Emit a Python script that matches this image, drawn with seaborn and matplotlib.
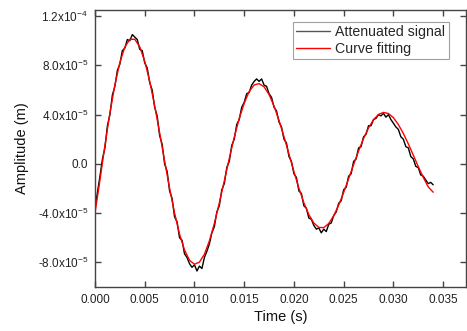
import numpy as np
import pandas as pd
import matplotlib
matplotlib.use("Agg")
import matplotlib.pyplot as plt
import seaborn as sns

# ---- data (amplitudes in units of 1e-5 m) ----
fit_time = [0.0005 * k for k in range(69)]
fit_amp_e5 = [
    -4.00, -1.31, 1.51, 4.13, 6.41, 8.23, 9.49, 10.12, 10.12, 9.51,
    8.34, 6.71, 4.72, 2.52, 0.24, -1.97, -3.99, -5.70, -6.99, -7.83,
    -8.15, -7.98, -7.34, -6.25, -4.84, -3.16, -1.38, 0.44, 2.16, 3.69,
    4.92, 5.88, 6.41, 6.52, 6.26, 5.63, 4.70, 3.53, 2.21, 0.80,
    -0.63, -1.98, -3.16, -4.12, -4.80, -5.16, -5.18, -4.84, -4.21, -3.35,
    -2.32, -1.20, -0.06, 1.05, 2.06, 2.92, 3.59, 4.02, 4.18, 4.09,
    3.75, 3.19, 2.47, 1.62, 0.71, -0.22, -1.09, -1.87, -2.30,
]

sig_time = [0.00025 * j for j in range(137)]
sig_amp_e5 = [
    -3.6, -2.3, -1.0, 0.4, 1.3, 3.1, 4.0, 5.6, 6.3, 7.6,
    8.1, 9.2, 9.4, 10.1, 10.0, 10.5, 10.3, 10.1, 9.3, 9.2,
    8.2, 7.8, 6.6, 6.0, 4.6, 3.9, 2.3, 1.6, 0.0, -0.6,
    -2.2, -2.8, -4.3, -4.7, -6.0, -6.2, -7.3, -7.6, -8.1, -8.4,
    -8.2, -8.7, -8.3, -8.5, -7.6, -7.1, -6.5, -5.6, -5.1, -3.9,
    -3.4, -2.1, -1.6, -0.3, 0.2, 1.5, 2.0, 3.2, 3.6, 4.6,
    5.0, 5.7, 5.8, 6.4, 6.7, 6.9, 6.7, 6.9, 6.4, 6.3,
    5.7, 5.4, 4.6, 4.3, 3.4, 3.0, 2.0, 1.7, 0.6, 0.2,
    -0.8, -1.1, -2.2, -2.4, -3.4, -3.6, -4.4, -4.5, -5.0, -5.3,
    -5.2, -5.6, -5.3, -5.5, -4.9, -4.8, -4.2, -3.9, -3.2, -3.0,
    -2.1, -1.9, -1.0, -0.8, 0.2, 0.4, 1.3, 1.4, 2.2, 2.4,
    3.1, 3.1, 3.6, 3.7, 4.0, 3.9, 4.1, 3.8, 4.0, 3.6,
    3.3, 3.0, 2.8, 2.2, 2.0, 1.4, 1.3, 0.6, 0.4, -0.2,
    -0.3, -0.9, -1.0, -1.3, -1.6, -1.5, -1.7,
]

x_ticks = [0.000, 0.005, 0.010, 0.015, 0.020, 0.025, 0.030, 0.035]
x_tick_labels = ["0.000", "0.005", "0.010", "0.015", "0.020", "0.025", "0.030", "0.035"]
y_ticks = [-8e-5, -4e-5, 0.0, 4e-5, 8e-5, 1.2e-4]
y_tick_labels = [r"-8.0x10$^{-5}$", r"-4.0x10$^{-5}$", "0.0",
                 r"4.0x10$^{-5}$", r"8.0x10$^{-5}$", r"1.2x10$^{-4}$"]

sig_df = pd.DataFrame({"t": sig_time, "A": np.array(sig_amp_e5) * 1e-5})
fit_df = pd.DataFrame({"t": fit_time, "A": np.array(fit_amp_e5) * 1e-5})

sns.set_style("ticks")
plt.rcParams["font.family"] = ["Liberation Sans", "DejaVu Sans"]
plt.rcParams["mathtext.fontset"] = "custom"
plt.rcParams["mathtext.rm"] = "Liberation Sans"
plt.rcParams["mathtext.it"] = "Liberation Sans"

fig = plt.figure(figsize=(4.67, 3.31), dpi=100)
ax = fig.add_axes([0.2034, 0.1329, 0.7945, 0.8369])

sns.lineplot(data=sig_df, x="t", y="A", ax=ax, color="black", linewidth=1.0,
             label="Attenuated signal", estimator=None)
sns.lineplot(data=fit_df, x="t", y="A", ax=ax, color="#ff0000", linewidth=1.0,
             label="Curve fitting", estimator=None)

ax.set_xlim(0, 0.0373)
ax.set_ylim(-1.0e-4, 1.25e-4)
ax.set_xticks(x_ticks)
ax.set_xticklabels(x_tick_labels)
ax.set_yticks(y_ticks)
ax.set_yticklabels(y_tick_labels)

edge = "#444444"
for s in ax.spines.values():
    s.set_visible(True)
    s.set_color(edge)
    s.set_linewidth(1.0)
ax.tick_params(direction="in", length=4, width=1.0, color=edge,
               top=True, right=True, labelsize=8.5, labelcolor="#222222", pad=5)

ax.set_xlabel("Time (s)", fontsize=10.5, color="#111111", labelpad=3)
ax.set_ylabel("Amplitude (m)", fontsize=10.5, color="#111111", labelpad=6)

leg = ax.legend(loc="upper right", bbox_to_anchor=(0.954, 0.957), fontsize=10.2,
                frameon=True, fancybox=False, edgecolor="#888888",
                handlelength=2.4, borderpad=0.25, labelspacing=0.15,
                handletextpad=0.35, borderaxespad=0.0)
leg.get_frame().set_linewidth(0.8)
leg.get_lines()[0].set_color("#555555")

fig.savefig("out.png", dpi=100)
